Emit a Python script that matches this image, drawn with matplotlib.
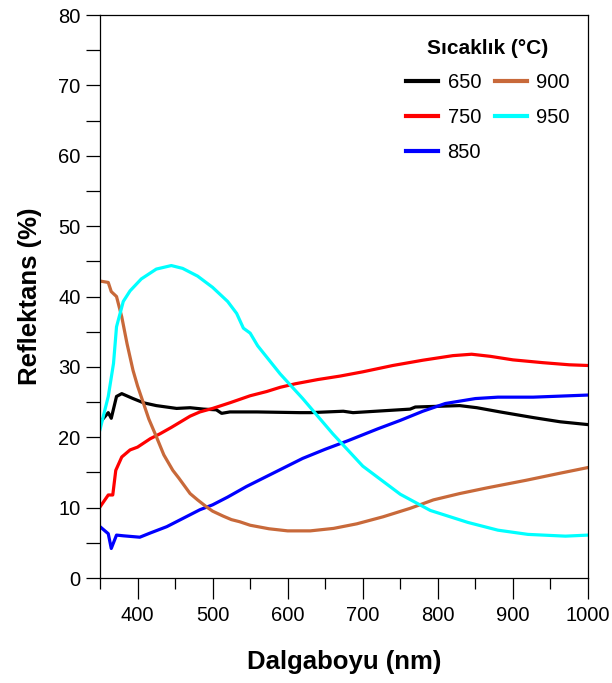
import matplotlib
matplotlib.use("Agg")
import matplotlib.pyplot as plt
from matplotlib.ticker import MultipleLocator

plt.rcParams['font.family'] = ['Liberation Sans', 'DejaVu Sans']

# spectra (wavelength nm, reflectance %)
wl_650 = [350, 361, 365, 372, 379, 394, 408, 425, 452, 470, 488, 505, 512, 523, 559,
          616, 630, 674, 687, 763, 770, 800, 829, 852, 883, 927, 963, 1000]
r_650 = [22.1, 23.5, 22.7, 25.8, 26.2, 25.5, 24.9, 24.5, 24.1, 24.2, 24.0, 23.9, 23.4, 23.6, 23.6,
         23.5, 23.5, 23.7, 23.5, 24.0, 24.3, 24.4, 24.5, 24.2, 23.6, 22.8, 22.2, 21.8]

wl_750 = [350, 361, 367, 371, 379, 390, 400, 417, 430, 445, 470, 483, 500, 523, 550, 572,
          590, 610, 640, 670, 700, 740, 780, 820, 845, 870, 900, 940, 975, 1000]
r_750 = [10.1, 11.8, 11.8, 15.3, 17.2, 18.2, 18.6, 19.8, 20.5, 21.4, 23.0, 23.6, 24.1, 24.9, 25.9, 26.5,
         27.1, 27.6, 28.2, 28.7, 29.3, 30.2, 30.95, 31.6, 31.8, 31.5, 31.0, 30.6, 30.3, 30.2]

wl_850 = [350, 361, 365, 372, 381, 403, 417, 439, 461, 483, 500, 520, 545, 560, 590, 620,
          650, 680, 720, 750, 780, 810, 850, 880, 927, 1000]
r_850 = [7.3, 6.3, 4.2, 6.1, 6.0, 5.8, 6.4, 7.3, 8.5, 9.7, 10.4, 11.5, 13.0, 13.8, 15.4, 17.0,
         18.3, 19.5, 21.2, 22.4, 23.7, 24.8, 25.5, 25.7, 25.7, 26.0]

wl_900 = [350, 361, 365, 372, 379, 386, 394, 400, 408, 415, 425, 435, 447, 455, 470, 480,
          492, 500, 514, 525, 536, 550, 575, 600, 630, 661, 692, 727, 763, 794,
          829, 865, 918, 963, 1000]
r_900 = [42.2, 42.0, 40.7, 40.0, 37.1, 33.3, 29.5, 27.3, 24.8, 22.6, 20.1, 17.5, 15.3, 14.2, 12.0, 11.1,
         10.1, 9.5, 8.8, 8.3, 8.0, 7.5, 7.0, 6.7, 6.7, 7.05, 7.7, 8.7, 9.9, 11.1,
         12.0, 12.8, 13.9, 14.9, 15.7]

wl_950 = [350, 361, 368, 372, 381, 390, 405, 425, 445, 460, 480, 500, 520, 532, 541, 550,
          560, 590, 620, 660, 700, 750, 790, 840, 880, 920, 970, 1000]
r_950 = [21.1, 25.8, 30.5, 35.7, 39.3, 40.8, 42.5, 43.9, 44.4, 44.0, 42.9, 41.3, 39.3, 37.6, 35.5, 34.8,
         33.0, 29.0, 25.5, 20.5, 15.9, 11.9, 9.6, 7.9, 6.8, 6.2, 5.95, 6.1]

labels = ['650', '750', '850', '900', '950']
colors = ['black', '#ff0000', '#0000ff', '#c8693a', '#00ffff']

fig = plt.figure(figsize=(6.12, 6.83), dpi=100)
ax = fig.add_axes([0.1634, 0.1537, 0.7974, 0.8243])

series = [(wl_650, r_650), (wl_750, r_750), (wl_850, r_850), (wl_900, r_900), (wl_950, r_950)]
for (x, y), lab, c in zip(series, labels, colors):
    ax.plot(x, y, color=c, lw=2.3, label=lab, solid_joinstyle='round')

ax.set_xlim(350, 1000)
ax.set_ylim(0, 80)
ax.xaxis.set_major_locator(MultipleLocator(100))
ax.xaxis.set_minor_locator(MultipleLocator(50))
ax.yaxis.set_major_locator(MultipleLocator(10))
ax.yaxis.set_minor_locator(MultipleLocator(5))
ax.tick_params(axis='x', which='major', length=15, width=0.9, labelsize=14.5, pad=5)
ax.tick_params(axis='x', which='minor', length=8, width=0.9)
ax.tick_params(axis='y', which='both', length=10, width=0.9, labelsize=14.5, pad=4)
for s in ax.spines.values():
    s.set_linewidth(0.9)

ax.set_xlabel('Dalgaboyu (nm)', fontsize=18.5, fontweight='bold', labelpad=18)
ax.set_ylabel('Reflektans (%)', fontsize=18.5, fontweight='bold', labelpad=12)

leg = ax.legend(ncol=2, frameon=False, loc='upper right', bbox_to_anchor=(1.0, 0.99),
                title='Sıcaklık (°C)', fontsize=14.5, handlelength=1.6, handletextpad=0.45,
                columnspacing=0.7, labelspacing=0.78)
leg.get_title().set_fontweight('bold')
leg.get_title().set_fontsize(15)
for h in leg.get_lines():
    h.set_linewidth(3)

fig.savefig('out.png', dpi=100)
